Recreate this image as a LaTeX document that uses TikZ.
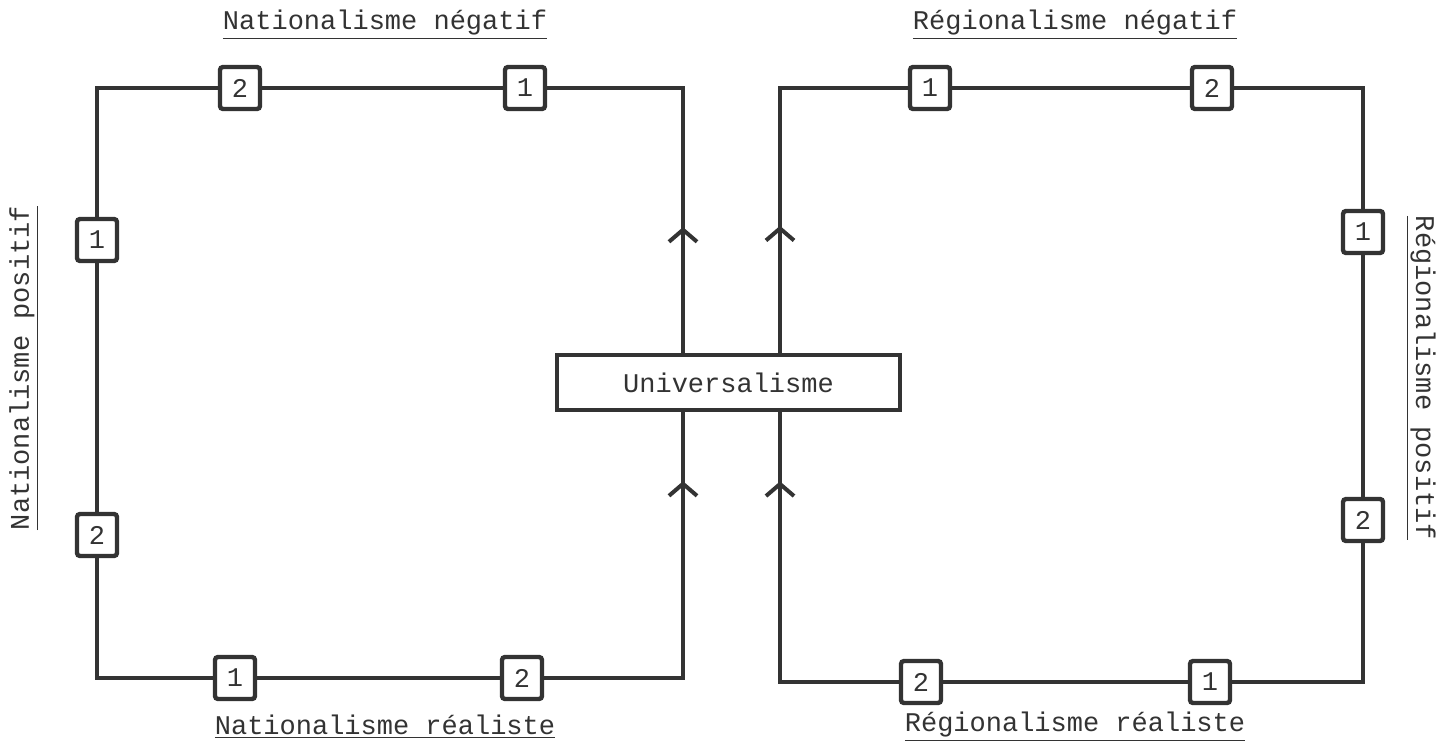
\documentclass[tikz,border=0pt]{standalone}
\usepackage{fontspec}
\setmonofont{Liberation Mono}
\usetikzlibrary{arrows.meta,decorations.markings}
\definecolor{ink}{HTML}{333333}
\begin{document}
\begin{tikzpicture}[x=0.5pt,y=-0.5pt,
  every node/.style={font=\ttfamily\fontsize{13.5}{16}\selectfont, text=ink},
  numbox/.style={draw=ink, line width=2.2pt, fill=white, minimum width=20pt, minimum height=21pt, inner sep=0pt, rounded corners=1.5pt},
  wire/.style={draw=ink, line width=2pt},
  upmark/.style={postaction={decorate}, decoration={markings, mark=at position #1 with {\arrow{Straight Barb[length=6pt,width=14pt]}}}},
  lab/.style={inner sep=0pt},
  unibox/.style={draw=ink, line width=2pt, fill=white, minimum width=171.5pt, minimum height=27.5pt, inner sep=0pt}]
\useasboundingbox (0,0) rectangle (1446,744);
\fill[white] (0,0) rectangle (1446,744);
% corners
\coordinate (ltl) at (97,88);
\coordinate (ltr) at (683,88);
\coordinate (lbl) at (97,678);
\coordinate (lbr) at (683,678);
\coordinate (rtl) at (780,88);
\coordinate (rtr) at (1363,88);
\coordinate (rbl) at (780,682);
\coordinate (rbr) at (1363,682);
% central box
\node[unibox] (U) at (728.5,382.5) {Universalisme};
% left square boxes
\node[numbox] (lt2) at (240,88) {2};
\node[numbox] (lt1) at (525,88) {1};
\node[numbox] (ll1) at (97,240) {1};
\node[numbox] (ll2) at (97,535) {2};
\node[numbox] (lb1) at (235,678) {1};
\node[numbox] (lb2) at (522,678) {2};
% right square boxes
\node[numbox] (rt1) at (930,88) {1};
\node[numbox] (rt2) at (1212,88) {2};
\node[numbox] (rr1) at (1363,232) {1};
\node[numbox] (rr2) at (1363,520) {2};
\node[numbox] (rb2) at (921,682) {2};
\node[numbox] (rb1) at (1210,682) {1};
% left square wires
\draw[wire] (lt2) -- (ltl) -- (ll1);
\draw[wire] (lt2) -- (lt1);
\draw[wire] (lt1) -- (ltr) -- (U.north -| ltr);
\draw[wire, upmark=0.475] (U.north -| ltr) -- (ltr);
\draw[wire] (ll1) -- (ll2);
\draw[wire] (ll2) -- (lbl) -- (lb1);
\draw[wire] (lb1) -- (lb2);
\draw[wire] (lb2) -- (lbr) -- (U.south -| lbr);
\draw[wire, upmark=0.74] (lbr) -- (U.south -| lbr);
% right square wires
\draw[wire] (rt1) -- (rtl) -- (U.north -| rtl);
\draw[wire, upmark=0.48] (U.north -| rtl) -- (rtl);
\draw[wire] (rt1) -- (rt2);
\draw[wire] (rt2) -- (rtr) -- (rr1);
\draw[wire] (rr1) -- (rr2);
\draw[wire] (rr2) -- (rbr) -- (rb1);
\draw[wire] (rb1) -- (rb2);
\draw[wire] (rb2) -- (rbl) -- (U.south -| rbl);
\draw[wire, upmark=0.743] (rbl) -- (U.south -| rbl);
% labels
\node[lab] (tN) at (385,25) {\underline{Nationalisme négatif}};
\node[lab] (bN) at (385,727) {\underline{Nationalisme réaliste}};
\node[lab] (tR) at (1075,25) {\underline{Régionalisme négatif}};
\node[lab] (bR) at (1075,727) {\underline{Régionalisme réaliste}};
\node[lab, rotate=90] (sN) at (24,368) {\underline{Nationalisme positif}};
\node[lab, rotate=-90] (sR) at (1421,378) {\underline{Régionalisme positif}};
\end{tikzpicture}
\end{document}
